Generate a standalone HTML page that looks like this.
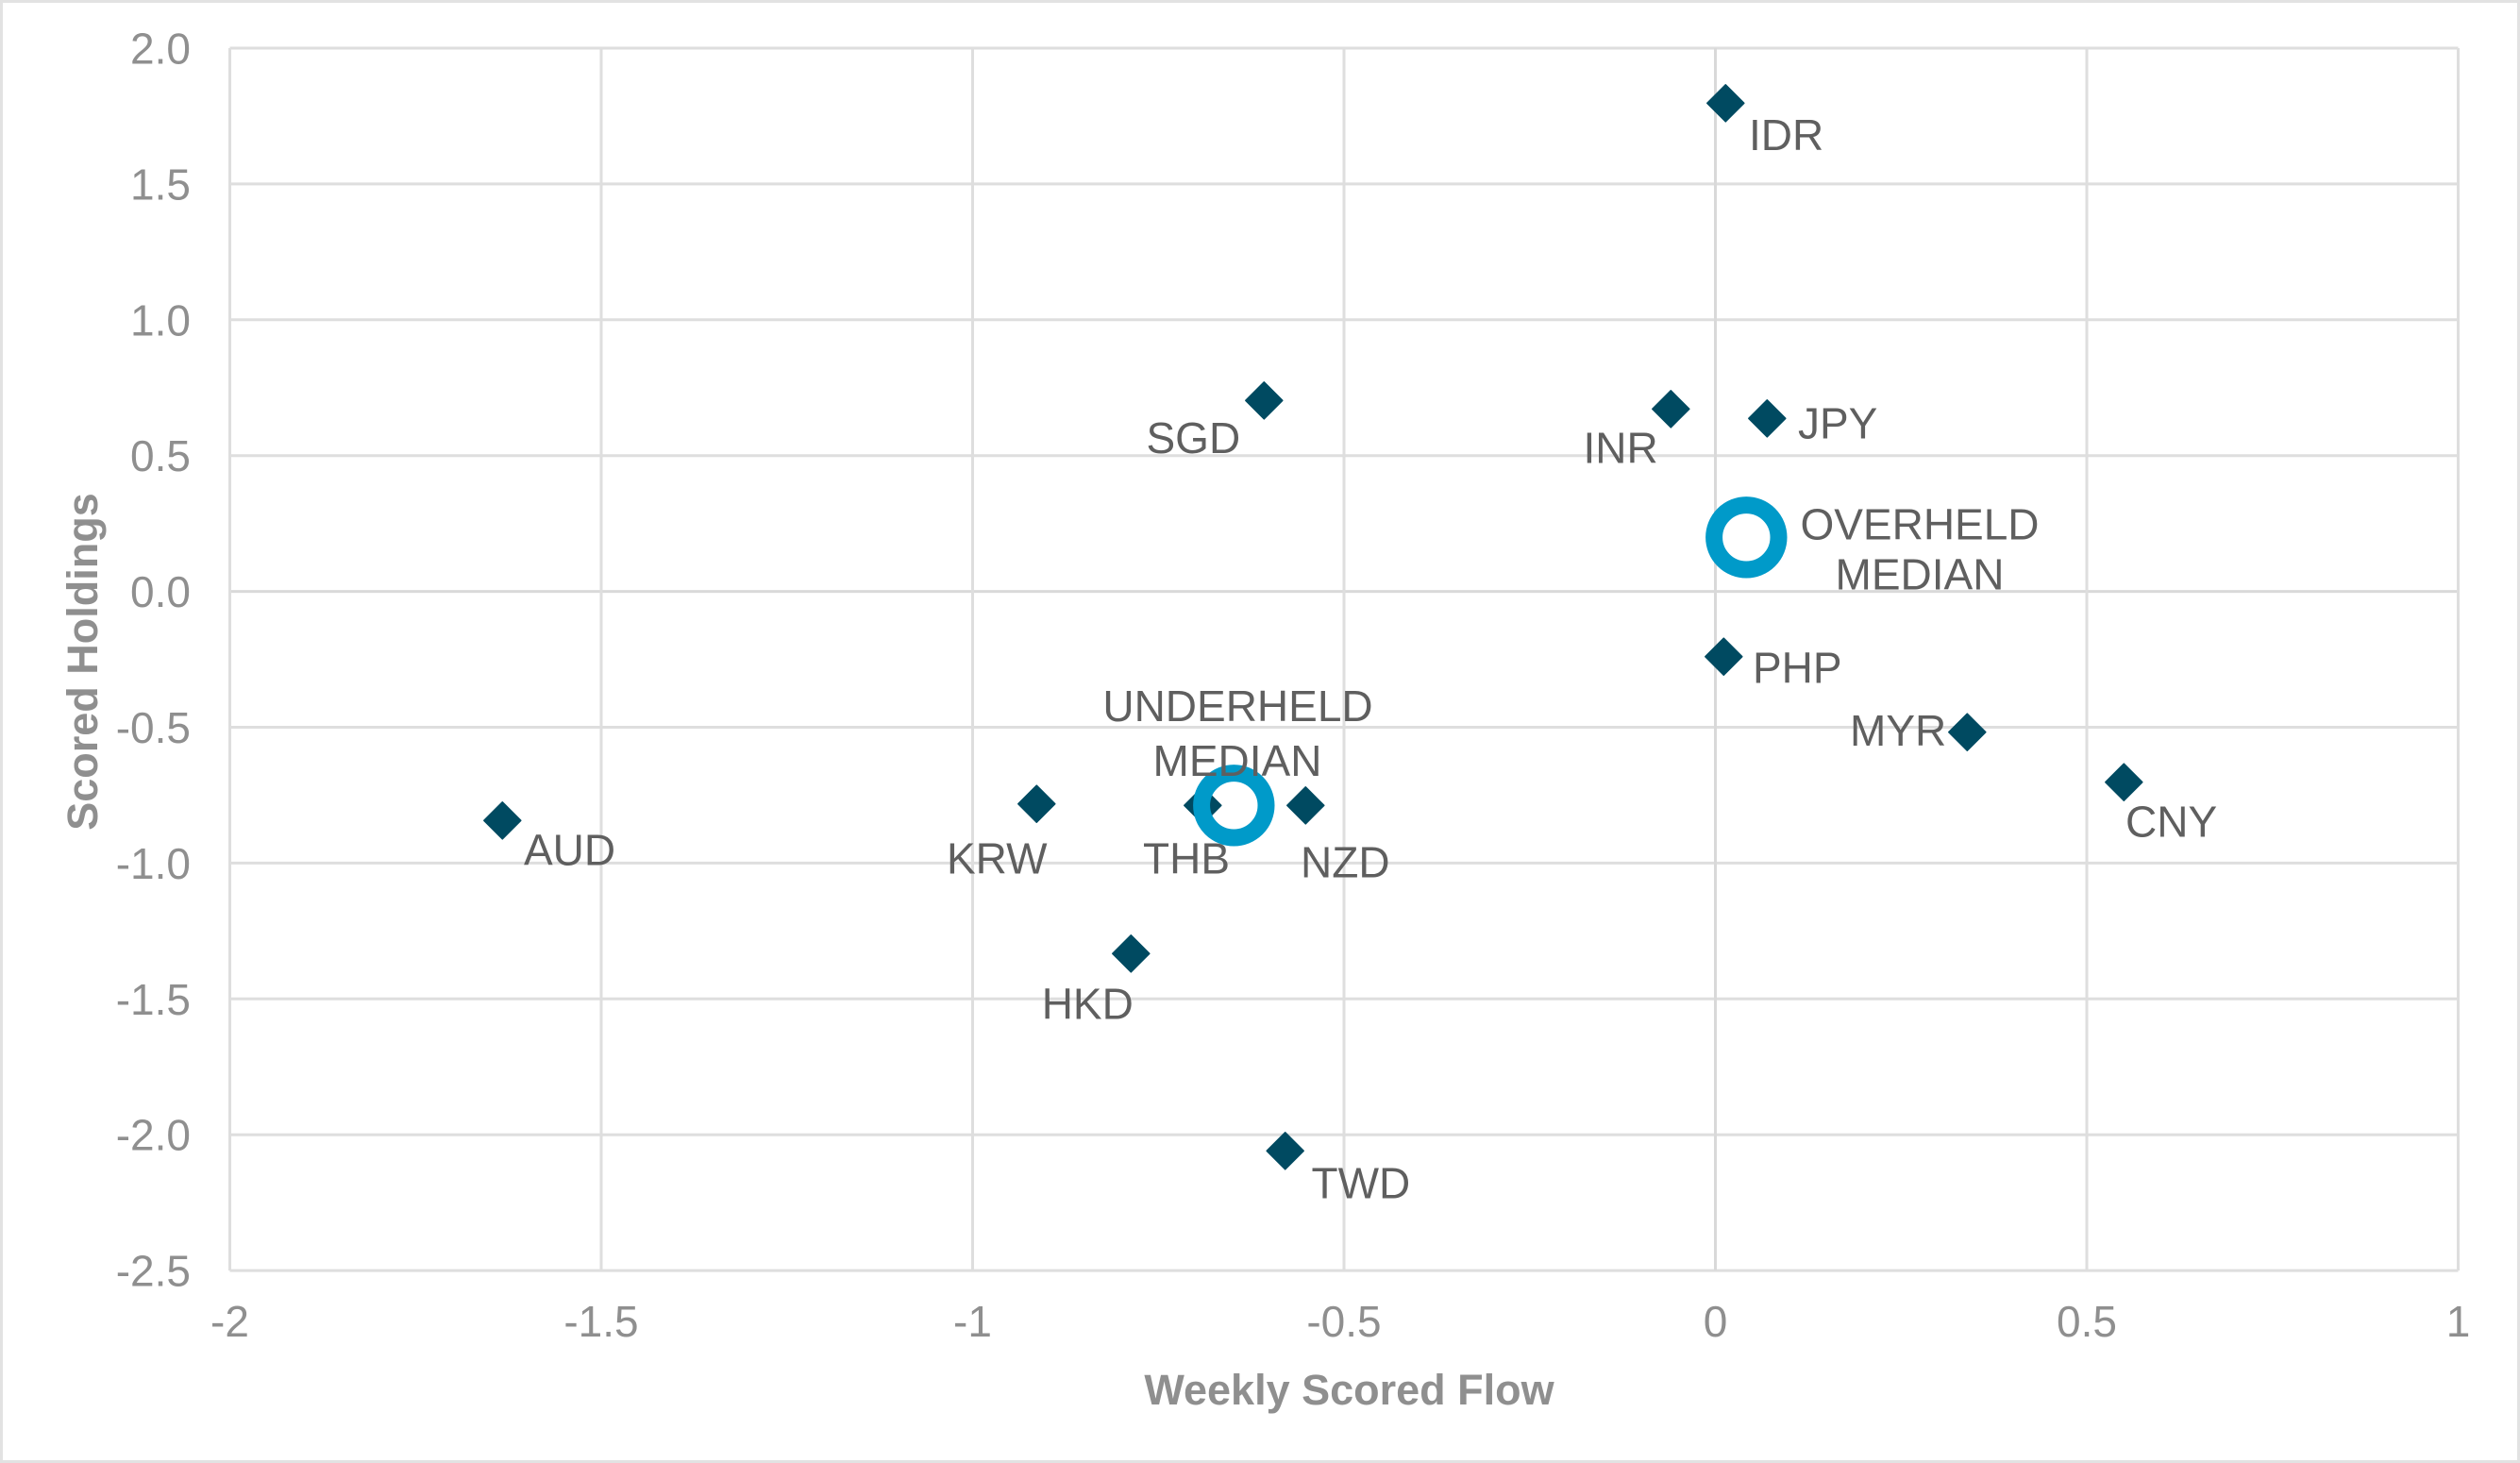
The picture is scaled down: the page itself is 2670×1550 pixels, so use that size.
<!DOCTYPE html>
<html>
<head>
<meta charset="utf-8">
<style>
  html, body { margin: 0; padding: 0; background: #ffffff; }
  svg { display: block; }
  text { font-family: "Liberation Sans", Arial, sans-serif; }
</style>
</head>
<body>
<svg width="2670" height="1550" viewBox="0 0 2670 1550" xmlns="http://www.w3.org/2000/svg">
  <rect x="0" y="0" width="2670" height="1550" fill="#ffffff"/>
  <rect x="1.5" y="1.5" width="2667" height="1547" fill="none" stroke="#e2e2e2" stroke-width="3"/>

  <!-- gridlines -->
  <g stroke="#dedede" stroke-width="3" fill="none">
    <line x1="243.5" y1="51" x2="2604.5" y2="51"/>
    <line x1="243.5" y1="194.9" x2="2604.5" y2="194.9"/>
    <line x1="243.5" y1="338.8" x2="2604.5" y2="338.8"/>
    <line x1="243.5" y1="482.7" x2="2604.5" y2="482.7"/>
    <line x1="243.5" y1="626.6" x2="2604.5" y2="626.6" stroke="#d9d9d9"/>
    <line x1="243.5" y1="770.5" x2="2604.5" y2="770.5"/>
    <line x1="243.5" y1="914.4" x2="2604.5" y2="914.4"/>
    <line x1="243.5" y1="1058.3" x2="2604.5" y2="1058.3"/>
    <line x1="243.5" y1="1202.2" x2="2604.5" y2="1202.2"/>
    <line x1="243.5" y1="1346.1" x2="2604.5" y2="1346.1"/>

    <line x1="243.5" y1="51" x2="243.5" y2="1346.1"/>
    <line x1="637" y1="51" x2="637" y2="1346.1"/>
    <line x1="1030.5" y1="51" x2="1030.5" y2="1346.1"/>
    <line x1="1424" y1="51" x2="1424" y2="1346.1"/>
    <line x1="1817.5" y1="51" x2="1817.5" y2="1346.1" stroke="#d9d9d9"/>
    <line x1="2211" y1="51" x2="2211" y2="1346.1"/>
    <line x1="2604.5" y1="51" x2="2604.5" y2="1346.1"/>
  </g>

  <!-- y tick labels -->
  <g fill="#8f8f8f" font-size="46" text-anchor="end">
    <text x="202" y="67.5">2.0</text>
    <text x="202" y="211.4">1.5</text>
    <text x="202" y="355.3">1.0</text>
    <text x="202" y="499.2">0.5</text>
    <text x="202" y="643.1">0.0</text>
    <text x="202" y="787">-0.5</text>
    <text x="202" y="930.9">-1.0</text>
    <text x="202" y="1074.8">-1.5</text>
    <text x="202" y="1218.7">-2.0</text>
    <text x="202" y="1362.6">-2.5</text>
  </g>

  <!-- x tick labels -->
  <g fill="#8f8f8f" font-size="46" text-anchor="middle">
    <text x="243.5" y="1416">-2</text>
    <text x="637" y="1416">-1.5</text>
    <text x="1030.5" y="1416">-1</text>
    <text x="1424" y="1416">-0.5</text>
    <text x="1817.5" y="1416">0</text>
    <text x="2211" y="1416">0.5</text>
    <text x="2604.5" y="1416">1</text>
  </g>

  <!-- axis titles -->
  <text x="1429.5" y="1488" fill="#8f8f8f" font-size="45" font-weight="bold" text-anchor="middle">Weekly Scored Flow</text>
  <text x="0" y="0" transform="translate(103,701) rotate(-90)" fill="#8f8f8f" font-size="45" font-weight="bold" text-anchor="middle">Scored Holdings</text>

  <!-- diamonds -->
  <defs>
    <path id="dm" d="M0,-19.5 L19.5,0 L0,19.5 L-19.5,0 Z"/>
  </defs>
  <g fill="#004a61" stroke="#004a61" stroke-width="1.5" stroke-linejoin="round">
    <use href="#dm" x="1828.3" y="109.3"/>
    <use href="#dm" x="1770.3" y="433.3"/>
    <use href="#dm" x="1872.3" y="443.3"/>
    <use href="#dm" x="1339.3" y="424.3"/>
    <use href="#dm" x="1826.3" y="695.7"/>
    <use href="#dm" x="2084.3" y="775.7"/>
    <use href="#dm" x="2250.3" y="828.7"/>
    <use href="#dm" x="532.3" y="869.3"/>
    <use href="#dm" x="1098.3" y="851.7"/>
    <use href="#dm" x="1274.3" y="853.3"/>
    <use href="#dm" x="1383.3" y="853.3"/>
    <use href="#dm" x="1198.3" y="1010.3"/>
    <use href="#dm" x="1361.7" y="1219.3"/>
  </g>

  <!-- median circles -->
  <g fill="none" stroke="#009ac9" stroke-width="18">
    <circle cx="1850.3" cy="569.3" r="34.2"/>
    <circle cx="1307.3" cy="853.3" r="34.2"/>
  </g>

  <!-- data labels -->
  <g fill="#5f5f5f" font-size="46">
    <text x="1853" y="159">IDR</text>
    <text x="1905" y="464.3">JPY</text>
    <text x="1677.5" y="490.5">INR</text>
    <text x="1214.5" y="480">SGD</text>
    <text x="1857" y="723.3">PHP</text>
    <text x="1960" y="790">MYR</text>
    <text x="2252" y="886.7">CNY</text>
    <text x="555" y="916.7">AUD</text>
    <text x="1003" y="925.7">KRW</text>
    <text x="1211" y="925.7">THB</text>
    <text x="1378" y="929.3">NZD</text>
    <text x="1103.7" y="1079.3">HKD</text>
    <text x="1389.5" y="1269.3">TWD</text>
    <text x="2034" y="571.3" text-anchor="middle">OVERHELD</text>
    <text x="2034" y="624.3" text-anchor="middle">MEDIAN</text>
    <text x="1311.5" y="764" text-anchor="middle">UNDERHELD</text>
    <text x="1311" y="822" text-anchor="middle">MEDIAN</text>
  </g>
</svg>
</body>
</html>
